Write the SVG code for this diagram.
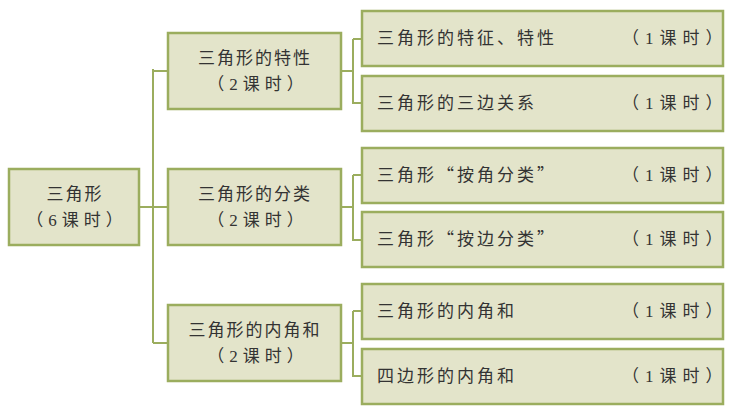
<svg xmlns="http://www.w3.org/2000/svg" width="734" height="412" viewBox="0 0 734 412">
<style>
.b{fill:#e3e4ca;stroke:#9bad5e;stroke-width:2.5}
.c{fill:none;stroke:#9bad5e;stroke-width:2}
text{font-family:"Liberation Serif","Noto Sans CJK SC",serif;font-size:17px;fill:#333}
.m{text-anchor:middle;letter-spacing:2px}
.p{text-anchor:middle;letter-spacing:5px}
.l{letter-spacing:3px}
.k{letter-spacing:6px}
.q{font-family:"Noto Sans CJK SC",sans-serif}
</style>
<rect width="734" height="412" fill="#fff"/>
<g id="connectors">
<path class="c" d="M139 207H168M153 69V343M153 71H168M153 343H168"/>
<path class="c" d="M341 71H353M353 39V103H362M353 39H362"/>
<path class="c" d="M341 207H353M353 175V240H362M353 175H362"/>
<path class="c" d="M341 343H353M353 311V376H362M353 311H362"/>
</g>
<g id="root"><rect class="b" x="9" y="169" width="130" height="76"/><text class="m" x="75" y="200">三角形</text><text class="p" x="77" y="226">（6课时）</text></g>
<g id="m1"><rect class="b" x="168" y="33" width="173" height="76"/><text class="m" x="255" y="64">三角形的特性</text><text class="p" x="258" y="90">（2课时）</text></g>
<g id="m2"><rect class="b" x="168" y="169" width="173" height="76"/><text class="m" x="255" y="200">三角形的分类</text><text class="p" x="258" y="226">（2课时）</text></g>
<g id="m3"><rect class="b" x="168" y="305" width="173" height="76"/><text class="m" x="255" y="336">三角形的内角和</text><text class="p" x="258" y="362">（2课时）</text></g>
<g id="r1"><rect class="b" x="362" y="11" width="361" height="55"/><text class="l" x="377" y="44">三角形的特征、特性</text><text class="k" x="622" y="44">（1课时）</text></g>
<g id="r2"><rect class="b" x="362" y="76" width="361" height="55"/><text class="l" x="377" y="109">三角形的三边关系</text><text class="k" x="622" y="109">（1课时）</text></g>
<g id="r3"><rect class="b" x="362" y="148" width="361" height="55"/><text class="l" x="377" y="181">三角形<tspan class="q">“</tspan>按角分类<tspan class="q">”</tspan></text><text class="k" x="622" y="181">（1课时）</text></g>
<g id="r4"><rect class="b" x="362" y="212" width="361" height="55"/><text class="l" x="377" y="245">三角形<tspan class="q">“</tspan>按边分类<tspan class="q">”</tspan></text><text class="k" x="622" y="245">（1课时）</text></g>
<g id="r5"><rect class="b" x="362" y="284" width="361" height="55"/><text class="l" x="377" y="317">三角形的内角和</text><text class="k" x="622" y="317">（1课时）</text></g>
<g id="r6"><rect class="b" x="362" y="349" width="361" height="55"/><text class="l" x="377" y="382">四边形的内角和</text><text class="k" x="622" y="382">（1课时）</text></g>
</svg>
